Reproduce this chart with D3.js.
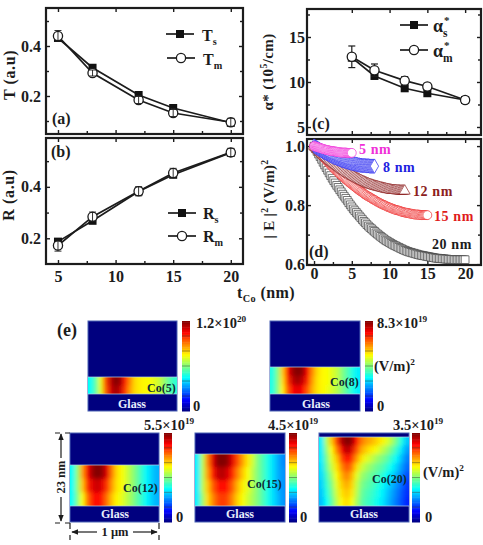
<!DOCTYPE html>
<html>
<head>
<meta charset="utf-8">
<script src="https://cdn.jsdelivr.net/npm/d3@7"></script>
<style>
  html, body { margin: 0; padding: 0; background: #fff; }
  svg { display: block; }
  text { font-family: "Liberation Serif", serif; font-weight: bold; fill: #1c1c1c; }
</style>
</head>
<body>
<svg id="fig" width="483" height="545"></svg>
<script>
// Cobalt film thicknesses (nm)
const thickness = [5, 8, 12, 15, 20];

// Panel (a): transmittance
const Ts = [0.432, 0.313, 0.204, 0.152, 0.093];
const Tm = [0.440, 0.292, 0.184, 0.132, 0.095];
const TmErr = [0.022, 0.012, 0.014, 0.014, 0.016];

// Panel (b): reflectance
const Rs = [0.187, 0.268, 0.382, 0.447, 0.533];
const Rm = [0.172, 0.284, 0.383, 0.454, 0.534];
const RmErr = [0.022, 0.018, 0.018, 0.018, 0.016];

// Panel (c): absorption coefficient
const alphaS = [12.7, 10.67, 9.3, 8.75, 8.0];
const alphaM = [12.8, 11.3, 10.15, 9.5, 8.0];
const alphaErr = [1.2, 0.7, 0.45, 0.35, 0.35];

// Panel (d): normalised field intensity against depth, evenly spaced through each film
const field5 = [1.000,.999,.998,.997,.996,.995,.994,.993,.992,.991,.990,.989,.988,.987,.987,.986,.985,.984,.984,.983,.983,.982,.982,.981,.981,.980,.980,.979,.979,.978,.978,.978,.978,.978,.978,.977,.977,.977,.977,.977,.977];
const field8 = [1.000,.998,.996,.994,.992,.990,.988,.986,.984,.982,.980,.978,.977,.975,.974,.972,.970,.968,.967,.965,.964,.962,.961,.960,.959,.957,.956,.955,.954,.952,.951,.950,.949,.948,.947,.946,.945,.944,.943,.942,.942,.941,.940,.939,.939,.938,.937,.936,.936,.935,.935,.934,.934,.934,.934,.933,.933,.933,.933,.932,.932,.932,.932,.932,.932];
const field12 = [1.000,.996,.993,.989,.985,.981,.978,.974,.971,.967,.964,.961,.958,.954,.951,.948,.945,.942,.939,.936,.934,.931,.928,.925,.922,.919,.917,.914,.912,.909,.907,.905,.903,.900,.898,.896,.894,.892,.890,.888,.886,.884,.882,.880,.879,.877,.875,.873,.872,.870,.869,.868,.867,.865,.864,.863,.862,.861,.860,.859,.858,.857,.856,.855,.854,.853,.853,.852,.851,.850,.850,.850,.850,.849,.849,.849,.848,.848,.848,.848,.848];
const field15 = [1.000,.995,.991,.986,.982,.977,.973,.968,.964,.960,.956,.951,.947,.943,.939,.935,.931,.927,.923,.919,.916,.912,.908,.904,.901,.897,.894,.890,.887,.884,.881,.877,.874,.871,.868,.865,.862,.859,.856,.853,.850,.847,.845,.842,.839,.836,.834,.831,.829,.827,.825,.822,.820,.818,.816,.813,.811,.809,.807,.805,.803,.801,.800,.798,.796,.794,.793,.791,.790,.788,.787,.785,.784,.783,.782,.781,.780,.778,.777,.776,.775,.774,.774,.773,.772,.771,.771,.770,.769,.768,.768,.768,.768,.767,.767,.766,.766,.766,.766,.766,.766];
const field20 = [1.000,.991,.982,.973,.964,.955,.945,.936,.927,.918,.909,.900,.891,.883,.875,.867,.860,.852,.845,.837,.830,.823,.816,.808,.801,.794,.787,.781,.775,.769,.763,.757,.751,.745,.740,.734,.729,.724,.720,.715,.711,.706,.702,.698,.694,.690,.686,.682,.679,.676,.673,.670,.667,.664,.662,.659,.657,.654,.652,.649,.647,.645,.643,.641,.640,.638,.637,.635,.634,.632,.631,.630,.629,.628,.627,.626,.625,.624,.623,.622,.621,.620,.620,.619,.619,.618,.618,.617,.617,.616,.616,.616,.616,.615,.615,.615,.615,.615,.615,.615,.615];

// Panel (e): simulated |E|^2 across the cobalt layer, as a fraction of each colour bar's maximum
const mapCo5 = [
  [.38,.46,.60,.80,.93,1,.97,.85,.74,.66,.64,.63,.62,.60,.57,.52,.46,.42],
  [.38,.46,.59,.78,.91,.97,.93,.82,.72,.66,.64,.63,.62,.60,.57,.52,.46,.42]
];
const mapCo8 = [
  [.40,.50,.68,.86,.97,1,.98,.88,.74,.66,.63,.62,.59,.56,.50,.45,.40,.36],
  [.40,.50,.66,.83,.93,.97,.93,.84,.72,.65,.63,.62,.59,.56,.50,.45,.40,.36],
  [.40,.50,.64,.79,.87,.90,.87,.79,.70,.65,.63,.61,.58,.55,.50,.45,.40,.36]
];
const mapCo12 = [
  [.38,.52,.72,.88,.97,1,.98,.90,.75,.66,.62,.58,.53,.48,.42,.37,.33,.30],
  [.38,.52,.68,.83,.90,.93,.90,.82,.72,.65,.62,.58,.53,.48,.42,.37,.33,.30],
  [.38,.50,.62,.76,.85,.87,.84,.76,.68,.63,.60,.56,.52,.47,.42,.37,.33,.30]
];
const mapCo15 = [
  [.36,.55,.75,.90,.99,1,.98,.90,.80,.72,.65,.58,.50,.45,.40,.35,.30,.26],
  [.36,.55,.72,.85,.93,.95,.91,.84,.75,.68,.62,.56,.50,.45,.40,.35,.30,.27],
  [.36,.55,.68,.78,.85,.87,.85,.78,.70,.64,.60,.55,.50,.45,.40,.35,.30,.27],
  [.36,.52,.66,.74,.80,.82,.80,.74,.67,.62,.58,.54,.50,.45,.40,.35,.31,.27]
];
const mapCo20 = [
  [.36,.55,.68,.82,.95,1,.98,.86,.76,.72,.70,.67,.64,.60,.55,.48,.40,.32],
  [.36,.52,.63,.75,.88,.95,.91,.80,.71,.67,.64,.61,.57,.53,.48,.42,.35,.28],
  [.36,.49,.60,.68,.80,.87,.83,.73,.65,.60,.57,.53,.50,.47,.42,.37,.31,.25],
  [.35,.47,.57,.65,.74,.80,.76,.66,.58,.54,.51,.48,.46,.42,.38,.33,.28,.23],
  [.34,.44,.53,.62,.70,.75,.70,.60,.53,.50,.47,.45,.42,.38,.34,.30,.25,.20],
  [.33,.42,.50,.60,.67,.71,.67,.57,.50,.47,.45,.42,.39,.35,.31,.27,.23,.18],
  [.32,.40,.48,.58,.65,.68,.65,.56,.48,.45,.43,.40,.37,.33,.29,.25,.21,.17],
  [.31,.38,.46,.56,.63,.66,.62,.54,.47,.44,.42,.39,.36,.32,.28,.24,.20,.16]
];

const svg = d3.select("#fig");
svg.append("rect").attr("width", 483).attr("height", 545).attr("fill", "#fff");
const defs = svg.append("defs");
const INK = "#1c1c1c";

// Rich text helper: parts are [string, "sup" | "sub" | undefined]
function rich(parent, x, y, parts, size, opts = {}) {
  const t = parent.append("text").attr("x", x).attr("y", y).attr("font-size", size)
    .attr("text-anchor", opts.anchor || "start");
  if (opts.fill) t.style("fill", opts.fill);
  if (opts.spacing) t.attr("letter-spacing", opts.spacing);
  if (opts.rotate) t.attr("transform", `rotate(-90 ${x} ${y})`);
  let shift = 0;
  parts.forEach(([s, kind]) => {
    const target = kind === "sup" ? -size * 0.38 : kind === "sub" ? size * 0.25 : 0;
    t.append("tspan").attr("dy", target - shift)
      .attr("font-size", kind ? size * 0.64 : size).text(s);
    shift = target;
  });
  return t;
}

// Frame with inward ticks on all four sides
function frame(box, xDomain, yDomain, xMajor, xMinor, yMajor, yMinor, showX, xPad, yPad, yFormat) {
  const g = svg.append("g");
  const x = d3.scaleLinear().domain(xDomain).range([box.x0, box.x1]);
  const y = d3.scaleLinear().domain(yDomain).range([box.y1, box.y0]);
  const draw = (axis, values, size, transform, format, pad) => {
    const a = g.append("g").attr("transform", transform)
      .call(axis.tickValues(values).tickSize(size).tickPadding(pad).tickFormat(format || ""));
    a.select(".domain").remove();
    a.selectAll("line").attr("stroke", INK).attr("stroke-width", 1.4);
    a.selectAll("text").attr("font-size", 16).attr("font-family", "Liberation Serif").attr("font-weight", "bold");
  };
  draw(d3.axisBottom(x), xMajor, -4, `translate(0,${box.y1})`, showX ? d3.format("d") : null, xPad);
  draw(d3.axisBottom(x), xMinor, -3, `translate(0,${box.y1})`, null, 0);
  draw(d3.axisTop(x), xMajor, -4, `translate(0,${box.y0})`, null, 0);
  draw(d3.axisLeft(y), yMajor, -4, `translate(${box.x0},0)`, d3.format(yFormat), yPad);
  draw(d3.axisLeft(y), yMinor, -3, `translate(${box.x0},0)`, null, 0);
  draw(d3.axisRight(y), yMajor, -4, `translate(${box.x1},0)`, null, 0);
  draw(d3.axisRight(y), yMinor, -3, `translate(${box.x1},0)`, null, 0);
  const border = svg.append("rect").attr("x", box.x0).attr("y", box.y0)
    .attr("width", box.x1 - box.x0).attr("height", box.y1 - box.y0)
    .attr("fill", "none").attr("stroke", INK).attr("stroke-width", 2.2);
  return { x, y, g: svg.append("g"), border };
}

function errorBars(p, xs, ys, errs, width) {
  const e = p.g.selectAll(null).data(ys).enter().append("g");
  e.append("line").attr("x1", (d, i) => p.x(xs[i])).attr("x2", (d, i) => p.x(xs[i]))
    .attr("y1", (d, i) => p.y(d + errs[i])).attr("y2", (d, i) => p.y(d - errs[i]))
    .attr("stroke", INK).attr("stroke-width", width);
  [1, -1].forEach(s => e.append("line")
    .attr("x1", (d, i) => p.x(xs[i]) - 3.5).attr("x2", (d, i) => p.x(xs[i]) + 3.5)
    .attr("y1", (d, i) => p.y(d + s * errs[i])).attr("y2", (d, i) => p.y(d + s * errs[i]))
    .attr("stroke", INK).attr("stroke-width", width));
}

function lineSeries(p, xs, ys, filled, errs, barsOnTop) {
  const line = d3.line().x((d, i) => p.x(xs[i])).y(d => p.y(d));
  p.g.append("path").attr("d", line(ys)).attr("fill", "none")
    .attr("stroke", INK).attr("stroke-width", 1.7);
  if (errs && !barsOnTop) errorBars(p, xs, ys, errs, 1.2);
  if (filled) {
    p.g.selectAll(null).data(ys).enter().append("rect")
      .attr("x", (d, i) => p.x(xs[i]) - 4).attr("y", d => p.y(d) - 4)
      .attr("width", 8).attr("height", 8).attr("fill", "#111");
  } else {
    p.g.selectAll(null).data(ys).enter().append("circle")
      .attr("cx", (d, i) => p.x(xs[i])).attr("cy", d => p.y(d)).attr("r", 4.6)
      .attr("fill", "#fff").attr("stroke", INK).attr("stroke-width", 1.3);
  }
  if (errs && barsOnTop) errorBars(p, xs, ys, errs, 0.9);
}

function legendRow(x0, x1, y, filled) {
  svg.append("line").attr("x1", x0).attr("x2", x1).attr("y1", y).attr("y2", y)
    .attr("stroke", INK).attr("stroke-width", 1.7);
  const c = (x0 + x1) / 2;
  if (filled) svg.append("rect").attr("x", c - 4).attr("y", y - 4).attr("width", 8).attr("height", 8).attr("fill", "#111");
  else svg.append("circle").attr("cx", c).attr("cy", y).attr("r", 4.6).attr("fill", "#fff")
    .attr("stroke", INK).attr("stroke-width", 1.3);
}

const xHalf = [7.5, 12.5, 17.5];
const xTicks = [5, 10, 15, 20];

// (a)
const pa = frame({ x0: 46, x1: 243, y0: 8, y1: 134 }, [3.96, 21.06], [0.048, 0.552],
  xTicks, xHalf, [0.2, 0.4], [0.1, 0.3, 0.5], false, 0, 5, ".1f");
lineSeries(pa, thickness, Ts, true);
lineSeries(pa, thickness, Tm, false, TmErr, true);
legendRow(166, 194, 34, true);
legendRow(167, 195, 58, false);
rich(svg, 202, 41, [["T"], ["s", "sub"]], 16);
rich(svg, 203, 65, [["T"], ["m", "sub"]], 16);
rich(svg, 52, 124, [["(a)"]], 16);
rich(svg, 15, 75, [["T (a.u)"]], 16, { rotate: true, anchor: "middle", spacing: 0.6 });

// (b)
const pb = frame({ x0: 46, x1: 243, y0: 138, y1: 264 }, [3.96, 21.06], [0.1, 0.59],
  xTicks, xHalf, [0.2, 0.4], [0.3, 0.5], true, 7, 5, ".1f");
lineSeries(pb, thickness, Rs, true);
lineSeries(pb, thickness, Rm, false, RmErr, true);
legendRow(168, 196, 213, true);
legendRow(168, 196, 236, false);
rich(svg, 203, 219, [["R"], ["s", "sub"]], 16);
rich(svg, 203, 242, [["R"], ["m", "sub"]], 16);
rich(svg, 51, 157, [["(b)"]], 16);
rich(svg, 14, 195, [["R (a.u)"]], 16, { rotate: true, anchor: "middle", spacing: 0.6 });

// (c)
const pc = frame({ x0: 307, x1: 481, y0: 9, y1: 135 }, [-0.93, 22.1], [4.11, 18.11],
  xTicks, xHalf, [5, 10, 15], [7.5, 12.5, 17.5], false, 0, 2, "d");
lineSeries(pc, thickness, alphaS, true);
lineSeries(pc, thickness, alphaM, false, alphaErr, false);
legendRow(400, 428, 25, true);
legendRow(400, 428, 50, false);
rich(svg, 433, 32, [["α"], ["s", "sub"]], 18);
rich(svg, 444, 24, [["*"]], 11);
rich(svg, 433, 57, [["α"], ["m", "sub"]], 18);
rich(svg, 444, 49, [["*"]], 11);
rich(svg, 312, 129, [["(c)"]], 16);
rich(svg, 273, 72, [["α* (10"], ["5", "sup"], ["/cm)"]], 15, { rotate: true, anchor: "middle", spacing: 0.4 });

// (d)
const pd = frame({ x0: 307, x1: 481, y0: 139, y1: 265 }, [-0.93, 22.1], [0.597, 1.024],
  [0, 5, 10, 15, 20], [2.5, 7.5, 12.5, 17.5], [0.6, 0.8, 1.0], [0.7, 0.9], true, 3, 2, ".1f");
const fieldSeries = [
  { film: 20, vals: field20, color: "#3c3c3c", sym: d3.symbolSquare, size: 60 },
  { film: 15, vals: field15, color: "#ee2a2a", sym: d3.symbolCircle, size: 62 },
  { film: 12, vals: field12, color: "#8c2020", sym: d3.symbolTriangle, size: 52 },
  { film: 8, vals: field8, color: "#2a2af0", sym: d3.symbolDiamond, size: 60 },
  { film: 5, vals: field5, color: "#f030d8", sym: d3.symbolCircle, size: 62 }
];
fieldSeries.forEach(s => {
  pd.g.selectAll(null).data(s.vals).enter().append("path")
    .attr("d", d3.symbol().type(s.sym).size(s.size))
    .attr("transform", (d, i) => `translate(${pd.x(i * s.film / (s.vals.length - 1))},${pd.y(d)})`)
    .attr("fill", "#fff").attr("stroke", s.color).attr("stroke-width", 0.7);
});
const fieldLabels = [
  ["5 nm", 359, 154, "#f030d8"], ["8 nm", 383, 172, "#2222e0"], ["12 nm", 413, 196, "#8c2020"],
  ["15 nm", 434, 221, "#e01c1c"], ["20 nm", 432, 249, INK]
];
fieldLabels.forEach(([s, x, y, c]) => rich(svg, x, y, [[s]], 14, { fill: c, spacing: 0.6 }));
rich(svg, 309, 257, [["(d)"]], 16);
rich(svg, 274, 199, [["| E |"], ["2", "sup"], [" (V/m)"], ["2", "sup"]], 15, { rotate: true, anchor: "middle", spacing: 0.3 });

// Shared thickness axis title
rich(svg, 237, 298, [["t"], ["Co", "sub"], [" (nm)"]], 16, { spacing: 0.4 });

// (e) field maps
const jet = d3.scaleLinear()
  .domain([0, 0.125, 0.375, 0.625, 0.875, 1])
  .range(["#00007f", "#0000ff", "#00ffff", "#ffff00", "#ff0000", "#7f0000"])
  .clamp(true);

defs.append("filter").attr("id", "soften").attr("x", "-20%").attr("y", "-20%")
  .attr("width", "140%").attr("height", "140%")
  .append("feGaussianBlur").attr("stdDeviation", 1.9);

const barLevels = d3.range(0, 1, 1 / 72);
const barTicks = [1, 2, 3, 4, 5].map(k => k / 6);

function fieldMap(cfg, id) {
  const { x0, x1, y0, y1, bandTop, bandBottom, barX, grid } = cfg;
  svg.append("rect").attr("x", x0).attr("y", y0).attr("width", x1 - x0).attr("height", y1 - y0)
    .attr("fill", "#00007f").attr("stroke", "#4a62b4").attr("stroke-width", 1);
  defs.append("clipPath").attr("id", id).append("rect")
    .attr("x", x0).attr("y", bandTop).attr("width", x1 - x0).attr("height", bandBottom - bandTop);
  const cols = d3.scaleBand().domain(d3.range(grid[0].length)).range([x0, x1]);
  const rows = d3.scaleBand().domain(d3.range(grid.length)).range([bandTop, bandBottom]);
  const bleed = 10; // outer cells run past the clip so the softening has no dark rim
  const nC = grid[0].length, nR = grid.length;
  const clip = svg.append("g").attr("clip-path", `url(#${id})`);
  const soft = clip.append("g").attr("filter", "url(#soften)");
  grid.forEach((row, r) => {
    soft.selectAll(null).data(row).enter().append("rect")
      .attr("x", (d, c) => cols(c) - (c === 0 ? bleed : 0))
      .attr("width", (d, c) => cols.bandwidth() + 0.6 + (c === 0 || c === nC - 1 ? bleed : 0))
      .attr("y", rows(r) - (r === 0 ? bleed : 0))
      .attr("height", rows.bandwidth() + 0.6 + (r === 0 || r === nR - 1 ? bleed : 0))
      .attr("fill", d => jet(d));
  });
  [bandTop, bandBottom].forEach(y => svg.append("line").attr("x1", x0).attr("x2", x1)
    .attr("y1", y).attr("y2", y).attr("stroke", "#b8d8e8").attr("stroke-width", 0.7));

  // Colour bar
  const barY = d3.scaleLinear().domain([0, 1]).range([y1, y0]);
  const bar = svg.append("g");
  bar.selectAll("rect").data(barLevels).enter().append("rect")
    .attr("x", barX).attr("width", 8)
    .attr("y", d => barY(d + 1 / 72)).attr("height", barY(0) - barY(1 / 72) + 0.5)
    .attr("fill", d => jet(d + 1 / 144));
  bar.selectAll("line").data(barTicks).enter().append("line")
    .attr("x1", barX).attr("x2", barX + 8)
    .attr("y1", d => barY(d)).attr("y2", d => barY(d))
    .attr("stroke", "#333").attr("stroke-width", 0.6).attr("stroke-opacity", 0.75);
}

const mapPanels = [
  { x0: 88, x1: 177, y0: 321, y1: 411, bandTop: 377, bandBottom: 394, barX: 182, grid: mapCo5 },
  { x0: 270, x1: 360, y0: 321, y1: 411, bandTop: 367, bandBottom: 394, barX: 365, grid: mapCo8 },
  { x0: 70, x1: 159, y0: 433, y1: 522, bandTop: 465, bandBottom: 506, barX: 164, grid: mapCo12 },
  { x0: 195, x1: 285, y0: 433, y1: 522, bandTop: 454, bandBottom: 506, barX: 289, grid: mapCo15 },
  { x0: 319, x1: 409, y0: 433, y1: 522, bandTop: 437, bandBottom: 506, barX: 412, grid: mapCo20 }
];
mapPanels.forEach((m, i) => fieldMap(m, "band" + i));

rich(svg, 57, 336, [["(e)"]], 18);

// Colour bar limits and units
const scaleLabels = [
  [196, 328, "1.2×10", "20"], [377, 328, "8.3×10", "19"], [144, 430, "5.5×10", "19"],
  [268, 430, "4.5×10", "19"], [393, 430, "3.5×10", "19"]
];
scaleLabels.forEach(([x, y, m, e]) => rich(svg, x, y, [[m], [e, "sup"]], 14.5));
const zeroLabels = [[193, 411], [377, 411], [176, 522], [300, 522], [425, 522]];
zeroLabels.forEach(([x, y]) => rich(svg, x, y, [["0"]], 14.5));
rich(svg, 374, 371, [["(V/m)"], ["2", "sup"]], 14.5);
rich(svg, 423, 477, [["(V/m)"], ["2", "sup"]], 14.5);

// Layer names
const coLabels = [
  ["Co(5)", 147, 392], ["Co(8)", 330, 386], ["Co(12)", 123, 492], ["Co(15)", 247, 488], ["Co(20)", 372, 483]
];
coLabels.forEach(([s, x, y]) => rich(svg, x, y, [[s]], 12, { fill: "#0c2b34" }));
const glassLabels = [[132, 408], [316, 408], [115, 518], [240, 518], [364, 518]];
glassLabels.forEach(([x, y]) => rich(svg, x, y, [["Glass"]], 12, { anchor: "middle", fill: "#e8eefc" }));

// Dimension marks beside the Co(12) map
defs.append("marker").attr("id", "head").attr("viewBox", "0 0 10 10").attr("refX", 9).attr("refY", 5)
  .attr("markerWidth", 6).attr("markerHeight", 6).attr("orient", "auto-start-reverse")
  .append("path").attr("d", "M0,1 L10,5 L0,9 Z").attr("fill", INK);
const dim = svg.append("g").attr("stroke", INK).attr("stroke-width", 1.2).attr("fill", "none");
const dimSegments = [
  [61, 458, 61, 434], [61, 497, 61, 521], [97, 532, 72, 532], [133, 532, 157, 532]
];
dimSegments.forEach(([a, b, c, d]) => dim.append("line")
  .attr("x1", a).attr("y1", b).attr("x2", c).attr("y2", d).attr("marker-end", "url(#head)"));
const dimStops = [[55, 433, 70, 433], [55, 523, 70, 523], [70, 523, 70, 529], [70, 535, 70, 540], [159, 523, 159, 529], [159, 535, 159, 540]];
dimStops.forEach(([a, b, c, d]) => dim.append("line")
  .attr("x1", a).attr("y1", b).attr("x2", c).attr("y2", d).attr("stroke-dasharray", a === c ? null : "5 5"));
rich(svg, 65, 477, [["23 nm"]], 12.5, { rotate: true, anchor: "middle" });
rich(svg, 115, 536, [["1 μm"]], 12.5, { anchor: "middle" });
</script>
</body>
</html>
